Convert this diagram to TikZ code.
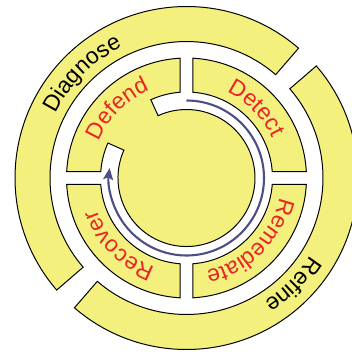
\documentclass[tikz,border=0pt]{standalone}
\usepackage{fontspec}
\setmainfont{Liberation Sans}
\usetikzlibrary{decorations.text,arrows.meta}

\definecolor{ringfill}{RGB}{244,240,126}
\definecolor{labelred}{RGB}{232,36,40}
\definecolor{loopblue}{RGB}{78,78,132}
\newcommand{\ringfont}{\fontsize{19.5pt}{21pt}\selectfont}

\begin{document}
\begin{tikzpicture}[
  x=0.03cm, y=0.03cm,
  seg/.style={draw=black, line width=0.85pt, fill=ringfill},
  flow/.style={draw=loopblue, line width=1.8pt,
    -{Stealth[length=10pt, width=8.5pt, inset=2pt]}},
  outerlbl/.style={decorate, decoration={text along path, text align=center,
    text color=black, text={|\ringfont|#1}}},
  innerlbl/.style={decorate, decoration={text along path, text align=center,
    text color=labelred, text={|\ringfont|#1}}},
]
\useasboundingbox (-186.5,-174) rectangle (165.5,178);

% outer ring
\filldraw[seg] (49.2:171.5) arc[start angle=49.2, end angle=220.8, radius=171.5]
  -- (220.8:136.5) arc[start angle=220.8, end angle=49.2, radius=136.5] -- cycle;
\filldraw[seg] (229.2:171.5) arc[start angle=229.2, end angle=400.8, radius=171.5]
  -- (400.8:136.5) arc[start angle=400.8, end angle=229.2, radius=136.5] -- cycle;

% middle ring
\foreach \c in {45,-45,-135} {
  \filldraw[seg] (\c-41.9:120) arc[start angle=\c-41.9, end angle=\c+41.9, radius=120]
    -- (\c+40.7:86) arc[start angle=\c+40.7, end angle=\c-40.7, radius=86] -- cycle;
}

% defend segment joined to the hub
\filldraw[seg] (93.1:120) arc[start angle=93.1, end angle=176.9, radius=120]
  -- (175.7:86) arc[start angle=175.7, end angle=156, radius=86]
  -- (156:68.5) arc[start angle=156, end angle=474.5, radius=68.5]
  -- (114.5:86) arc[start angle=114.5, end angle=94.3, radius=86] -- cycle;

\draw[flow] (90:77.5) arc[start angle=90, end angle=-187.4, radius=77.5];

\path[outerlbl=Diagnose] (195:146) arc[start angle=195, end angle=75, radius=146];
\path[outerlbl=Refine] (15:146) arc[start angle=15, end angle=-105, radius=146];

\path[innerlbl=Defend] (195:95) arc[start angle=195, end angle=75, radius=95];
\path[innerlbl=Detect] (105:95) arc[start angle=105, end angle=-15, radius=95];
\path[innerlbl=Remediate] (15:95) arc[start angle=15, end angle=-105, radius=95];
\path[innerlbl=Recover] (285:95) arc[start angle=285, end angle=165, radius=95];

\end{tikzpicture}
\end{document}
